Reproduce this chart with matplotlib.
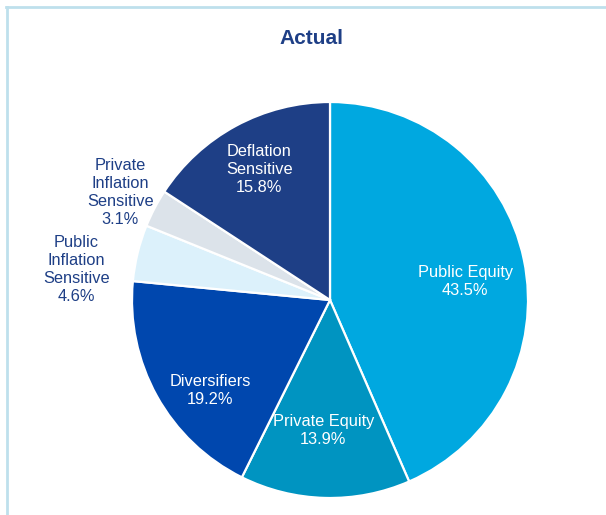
#!/usr/bin/env python3

import numpy as np
import matplotlib
matplotlib.use("Agg")
import matplotlib.pyplot as plt
from matplotlib.lines import Line2D

plt.rcParams['font.family'] = ['Liberation Sans', 'DejaVu Sans']

# Data (clockwise from 12 o'clock)
categories = ["Public Equity", "Private Equity", "Diversifiers",
              "Public\nInflation\nSensitive", "Private\nInflation\nSensitive",
              "Deflation\nSensitive"]
shares = [43.5, 13.9, 19.2, 4.6, 3.1, 15.8]
title = "Actual"

# Style
colors = ["#00A8E0", "#0094C1", "#0047AE", "#DCF1FB", "#DCE3EA", "#1E3F86"]
label_colors = ["white", "white", "white", "#1E3F86", "#1E3F86", "white"]
label_radius = [0.69, 0.66, 0.76, 1.29, 1.19, 0.75]
label_shift = [-4, -1.5, 8, 7, 0.5, 0]   # degrees, nudges from the wedge middle
navy = "#1E3F86"

W, H = 606, 515
fig = plt.figure(figsize=(W / 100, H / 100), dpi=100)
ax = fig.add_axes([0, 0, 1, 1])

wedges, _ = ax.pie(shares, colors=colors, startangle=90, counterclock=False,
                   wedgeprops=dict(edgecolor="white", linewidth=1.6))

# pie centre at (330, 300) px, radius 198 px
cx, cy, r_px = 330, 300, 198
ax.set_xlim(-cx / r_px, (W - cx) / r_px)
ax.set_ylim(-(H - cy) / r_px, cy / r_px)
ax.set_aspect("equal")
ax.axis("off")

for w, lab, v, col, rr, sh in zip(wedges, categories, shares,
                                  label_colors, label_radius, label_shift):
    mid = np.deg2rad((w.theta1 + w.theta2) / 2 + sh)
    ax.text(rr * np.cos(mid), rr * np.sin(mid), "{}\n{:.1f}%".format(lab, v),
            ha="center", va="center", color=col, fontsize=11.8,
            linespacing=1.25)

fig.text(311 / W, 1 - 38 / H, title, ha="center", va="center",
         fontsize=15, fontweight="bold", color=navy)

# light blue frame on top and left
border = "#BEE0EC"
fig.add_artist(Line2D([6 / W, 1], [1 - 6.5 / H, 1 - 6.5 / H],
                      transform=fig.transFigure, color=border, lw=2))
fig.add_artist(Line2D([6.5 / W, 6.5 / W], [0, 1 - 6.5 / H],
                      transform=fig.transFigure, color=border, lw=2))

fig.savefig("out.png", dpi=100)
